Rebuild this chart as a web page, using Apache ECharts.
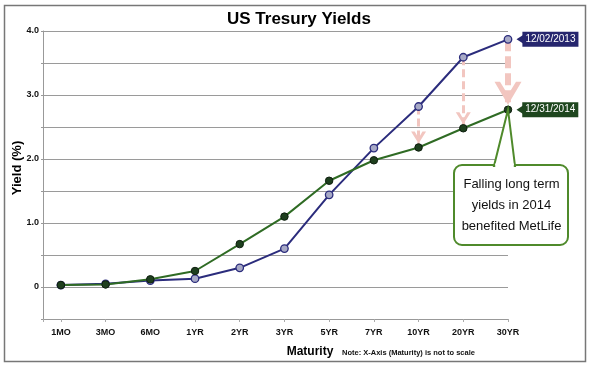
<!DOCTYPE html>
<html>
<head>
<meta charset="utf-8">
<script src="https://cdn.jsdelivr.net/npm/echarts@6/dist/echarts.min.js"></script>
<style>
html,body{margin:0;padding:0;background:#fff;}
#chart{width:592px;height:369px;}
</style>
</head>
<body>
<div id="chart"></div>
<script>
// ---- data ----
const categories = ['1MO','3MO','6MO','1YR','2YR','3YR','5YR','7YR','10YR','20YR','30YR'];
const seriesNames = ['12/02/2013','12/31/2014'];
const yields2013 = [0.03,0.05,0.10,0.13,0.30,0.60,1.44,2.17,2.82,3.59,3.87];
const yields2014 = [0.03,0.04,0.12,0.25,0.67,1.10,1.66,1.98,2.18,2.48,2.77];
const arrowIdx = [8,9,10];
const yTickLabels = {'0':'0','1':'1.0','2':'2.0','3':'3.0','4':'4.0'};
const titleText = 'US Tresury Yields';
const calloutText = 'Falling long term\nyields in 2014\nbenefited MetLife';
const noteText = 'Note: X-Axis (Maturity) is not to scale';

const FONT = 'Liberation Sans';
const NAVY = '#2B2C7C', NAVY_BOX = '#26266E';
const GREEN = '#2F6B24', GREEN_BOX = '#1E461E';
const PINK = '#F2C6C0';

const chart = echarts.init(document.getElementById('chart'), null, {renderer:'canvas'});
const idx = categories.map((c,i)=>i);

function mkData(arr, name, boxColor){
  return arr.map((v,i)=>{
    if(i===arr.length-1){
      return {value:[i,v], label:{show:true, position:'right', distance:10,
        formatter:name, backgroundColor:boxColor, color:'#fff', fontSize:10,
        fontFamily:FONT, padding:[2,3,1,3], lineHeight:12}};
    }
    return [i,v];
  });
}

// arrowheads: an extra move-to point shifts the symbol centre so the tip stops just above the end marker
const thinHead = 'path://M7,-20 M7,0 L14,12 L10.6,12 L7,5.2 L3.4,12 L0,12 Z';
const thickHead = 'path://M13.5,-33 M13.5,0 L27,23 L21.5,23 L13.5,10 L5.5,23 L0,23 Z';

const arrowLines = arrowIdx.map(i=>{
  const thick = i===categories.length-1;
  return [
    {coord:[i, yields2013[i]], symbol:'none'},
    {coord:[i, yields2014[i]], symbol: thick?thickHead:thinHead,
     symbolSize: thick?[27,56]:[15,32],
     lineStyle:{color:PINK, width: thick?6:3, type: thick?[12,5]:[8,4]}}
  ];
});

const last = categories.length-1;

const option = {
  animation:false,
  title:{text:titleText, left:222, top:6,
    textStyle:{fontFamily:FONT, fontSize:17, fontWeight:'bold', color:'#000'}},
  grid:{left:43, right:84, top:31, bottom:50, outerBoundsMode:'none', containLabel:false},
  xAxis:{type:'value', min:-0.4, max:10,
    name:'Maturity', nameLocation:'middle', nameGap:27, nameMoveOverlap:false,
    nameTextStyle:{fontFamily:FONT, fontSize:12, fontWeight:'bold', color:'#000', padding:[0,0,0,69]},
    axisLine:{show:true, onZero:false, lineStyle:{color:'#999', width:1}},
    axisTick:{show:true, customValues:[-0.4].concat(idx), length:3, lineStyle:{color:'#aaa'}},
    axisLabel:{customValues:idx, formatter:v=>categories[Math.round(v)], margin:9,
      fontFamily:FONT, fontSize:9, fontWeight:'bold', color:'#111'},
    splitLine:{show:false}},
  yAxis:{type:'value', min:-0.5, max:4, interval:0.5,
    name:'Yield (%)', nameLocation:'middle', nameGap:19, nameMoveOverlap:false,
    nameTextStyle:{fontFamily:FONT, fontSize:13, fontWeight:'bold', color:'#000', padding:[0,0,0,14]},
    axisLine:{show:true, onZero:false, lineStyle:{color:'#999', width:1}},
    axisTick:{show:true, length:2, lineStyle:{color:'#999'}},
    axisLabel:{formatter:v=>{const k=String(Math.round(v*10)/10); return yTickLabels[k]||'';},
      margin:4, fontFamily:FONT, fontSize:9, fontWeight:'bold', color:'#111'},
    splitLine:{show:true, lineStyle:{color:'#9a9a9a', width:1}}},
  series:[
    {type:'line', name:'arrows', data:[], z:1, silent:true,
      markLine:{z:1, silent:true, symbol:['none','none'], label:{show:false},
        data:[[{yAxis:0, symbol:'none', lineStyle:{color:'#000', width:1.2, type:'solid'}},{yAxis:0, symbol:'none'}]]
          .concat(arrowLines),
        lineStyle:{color:PINK}}},
    {type:'line', name:seriesNames[0], data:mkData(yields2013, seriesNames[0], NAVY_BOX), z:3,
      symbol:'circle', symbolSize:7.5, lineStyle:{color:NAVY, width:2},
      itemStyle:{color:'#A7A9C6', borderColor:NAVY, borderWidth:1.3},
      markPoint:{data:[{coord:[last, yields2013[last]], symbol:'triangle', symbolSize:[9,7],
        symbolRotate:90, symbolOffset:[12,0], itemStyle:{color:NAVY_BOX}, label:{show:false}}]}},
    {type:'line', name:seriesNames[1], data:mkData(yields2014, seriesNames[1], GREEN_BOX), z:4,
      symbol:'circle', symbolSize:7.5, lineStyle:{color:GREEN, width:2},
      itemStyle:{color:'#1E3F1E', borderColor:'#0E1E0E', borderWidth:1},
      markPoint:{data:[{coord:[last, yields2014[last]], symbol:'triangle', symbolSize:[9,7],
        symbolRotate:90, symbolOffset:[12,0], itemStyle:{color:GREEN_BOX}, label:{show:false}}]}}
  ]
};
chart.setOption(option);

// annotations: frame, callout, note
const tip = chart.convertToPixel({gridIndex:0}, [last, yields2014[last]]);
const bx0=454, bx1=568, by0=165, by1=245, pl=494, pr=515;

chart.setOption({graphic:[
  {type:'rect', shape:{x:4.5, y:5.5, width:581, height:356}, silent:true, z:0,
    style:{fill:'none', stroke:'#777', lineWidth:1.5}},
  {type:'rect', shape:{x:bx0, y:by0, width:bx1-bx0, height:by1-by0, r:8}, z:10, silent:true,
    style:{fill:'#fff', stroke:'#4F8A2B', lineWidth:2}},
  {type:'polygon', shape:{points:[[pl,by0+1],[tip[0],tip[1]],[pr,by0+1]]}, z:11, silent:true,
    style:{fill:'#fff', stroke:'#4F8A2B', lineWidth:2, lineJoin:'miter'}},
  {type:'rect', shape:{x:pl+1.2, y:by0-1.5, width:pr-pl-2.4, height:4}, z:12, silent:true,
    style:{fill:'#fff'}},
  {type:'text', x:(bx0+bx1)/2+0.5, y:(by0+by1)/2, z:13, silent:true,
    style:{text:calloutText, fontFamily:FONT, fontSize:13, lineHeight:21, fill:'#111',
      textAlign:'center', textVerticalAlign:'middle'}},
  {type:'text', x:342, y:352.5, z:13, silent:true,
    style:{text:noteText, fontFamily:FONT, fontSize:7.5, fontWeight:'bold', fill:'#111',
      textAlign:'left', textVerticalAlign:'middle'}}
]});
</script>
</body>
</html>
